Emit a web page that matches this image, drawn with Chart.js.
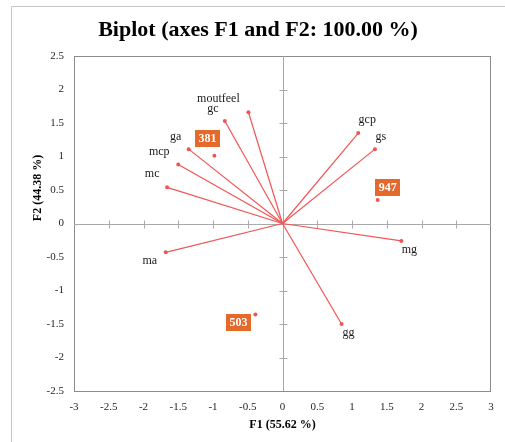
<!DOCTYPE html>
<html>
<head>
<meta charset="utf-8">
<script src="https://cdn.jsdelivr.net/npm/chart.js@4.4.1/dist/chart.umd.min.js"></script>
<style>
  html, body { margin: 0; padding: 0; background: #fff; overflow: hidden; }
  canvas { display: block; }
</style>
</head>
<body>
<canvas id="biplot" width="505" height="442"></canvas>
<script>
// Variable loadings (vectors from the origin)
const variables = ['moutfeel', 'gc', 'ga', 'mcp', 'mc', 'ma', 'gcp', 'gs', 'mg', 'gg'];
const varF1 = [-0.49, -0.83, -1.35, -1.50, -1.66, -1.68, 1.09, 1.33, 1.71, 0.85];
const varF2 = [1.66, 1.53, 1.11, 0.88, 0.54, -0.43, 1.35, 1.11, -0.26, -1.50];

// Observation scores
const observations = ['381', '947', '503'];
const obsF1 = [-0.98, 1.37, -0.39];
const obsF2 = [1.01, 0.35, -1.36];

const titleText = 'Biplot (axes F1 and F2: 100.00 %)';
const xTitle = 'F1 (55.62 %)';
const yTitle = 'F2 (44.38 %)';

// Label placement relative to each marker, in pixels
const varLabelOffset = {
  moutfeel: [-30, -13], gc: [-12, -12], ga: [-13, -12], mcp: [-19, -13], mc: [-15, -13],
  ma: [-16, 9], gcp: [9, -13], gs: [6, -12], mg: [8, 9], gg: [7, 9]
};
const obsLabelOffset = { '381': [-7, -17], '947': [10, -13], '503': [-17, 8] };

const LINE_RED = '#f05555';
const BOX_ORANGE = '#e5692b';
const SERIF = '"Liberation Serif", "Times New Roman", serif';

const datasets = variables.map((name, i) => ({
  label: name,
  data: [{ x: 0, y: 0 }, { x: varF1[i], y: varF2[i] }],
  showLine: true,
  borderColor: LINE_RED,
  backgroundColor: LINE_RED,
  borderWidth: 1.2,
  pointRadius: [0, 2],
  pointBorderWidth: 0,
  pointBackgroundColor: LINE_RED
}));
datasets.push({
  label: 'observations',
  data: observations.map((n, i) => ({ x: obsF1[i], y: obsF2[i] })),
  showLine: false,
  pointRadius: 2,
  pointBorderWidth: 0,
  pointBackgroundColor: LINE_RED,
  backgroundColor: LINE_RED
});

const biplotDecor = {
  id: 'biplotDecor',
  beforeDraw(chart) {
    const { ctx, chartArea: a, scales: { x, y } } = chart;
    ctx.save();
    ctx.fillStyle = '#fff';
    ctx.fillRect(0, 0, chart.width, chart.height);

    // outer frame (top and left edges)
    ctx.strokeStyle = '#c6c6c6';
    ctx.lineWidth = 1;
    ctx.beginPath();
    ctx.moveTo(11.5, chart.height);
    ctx.lineTo(11.5, 6.5);
    ctx.lineTo(chart.width, 6.5);
    ctx.stroke();

    // plot box
    ctx.strokeStyle = '#8c8c8c';
    ctx.strokeRect(Math.round(a.left) + 0.5, Math.round(a.top) + 0.5,
      Math.round(a.right - a.left) - 1, Math.round(a.bottom - a.top));

    // central axes through the origin
    const x0 = Math.round(x.getPixelForValue(0)) + 0.5;
    const y0 = Math.round(y.getPixelForValue(0)) + 0.5;
    ctx.strokeStyle = '#a9a9a9';
    ctx.beginPath();
    ctx.moveTo(a.left, y0); ctx.lineTo(a.right, y0);
    ctx.moveTo(x0, a.top); ctx.lineTo(x0, a.bottom);
    ctx.stroke();

    // cross ticks on the central axes
    ctx.beginPath();
    x.ticks.forEach(t => {
      if (t.value === 0 || t.value === x.min || t.value === x.max) return;
      const px = Math.round(x.getPixelForValue(t.value)) + 0.5;
      ctx.moveTo(px, y0 - 4); ctx.lineTo(px, y0 + 4);
    });
    y.ticks.forEach(t => {
      if (t.value === 0 || t.value === y.min || t.value === y.max) return;
      const py = Math.round(y.getPixelForValue(t.value)) + 0.5;
      ctx.moveTo(x0 - 4, py); ctx.lineTo(x0 + 4, py);
    });
    ctx.stroke();
    ctx.restore();
  },
  afterDatasetsDraw(chart) {
    const { ctx, scales: { x, y } } = chart;
    ctx.save();
    ctx.textAlign = 'center';
    ctx.textBaseline = 'middle';

    // variable names
    ctx.fillStyle = '#1a1a1a';
    ctx.font = '12px ' + SERIF;
    variables.forEach((name, i) => {
      const [dx, dy] = varLabelOffset[name];
      ctx.fillText(name, x.getPixelForValue(varF1[i]) + dx, y.getPixelForValue(varF2[i]) + dy);
    });

    // observation tags
    ctx.font = 'bold 12px ' + SERIF;
    observations.forEach((name, i) => {
      const [dx, dy] = obsLabelOffset[name];
      const cx = x.getPixelForValue(obsF1[i]) + dx;
      const cy = y.getPixelForValue(obsF2[i]) + dy;
      const w = 25, h = 17;
      ctx.fillStyle = BOX_ORANGE;
      ctx.fillRect(Math.round(cx - w / 2), Math.round(cy - h / 2), w, h);
      ctx.fillStyle = '#fff';
      ctx.fillText(name, cx, cy + 0.5);
    });
    ctx.restore();
  },
  afterDraw(chart) {
    const { ctx } = chart;
    ctx.save();
    ctx.fillStyle = '#000';
    ctx.textAlign = 'center';
    ctx.textBaseline = 'middle';
    ctx.font = 'bold 22px ' + SERIF;
    ctx.fillText(titleText, 258, 30);

    ctx.font = 'bold 12px ' + SERIF;
    ctx.fillText(xTitle, 282.5, 425);
    ctx.translate(37.5, 188);
    ctx.rotate(-Math.PI / 2);
    ctx.fillText(yTitle, 0, 0);
    ctx.restore();
  }
};

const tickFont = { family: SERIF, size: 11 };
const tickText = v => String(v);

new Chart(document.getElementById('biplot'), {
  type: 'scatter',
  data: { datasets },
  options: {
    responsive: false,
    animation: false,
    layout: { padding: { top: 56, right: 14, bottom: 0, left: 0 } },
    plugins: { legend: { display: false }, tooltip: { enabled: false }, title: { display: false } },
    scales: {
      x: {
        type: 'linear', min: -3, max: 3,
        grid: { display: false, drawTicks: false },
        border: { display: false },
        ticks: { stepSize: 0.5, padding: 10, color: '#262626', font: tickFont, callback: tickText, maxRotation: 0 },
        afterFit: s => { s.height = 51; }
      },
      y: {
        type: 'linear', min: -2.5, max: 2.5,
        grid: { display: false, drawTicks: false },
        border: { display: false },
        ticks: { stepSize: 0.5, padding: 10, color: '#262626', font: tickFont, callback: tickText },
        afterFit: s => { s.width = 74; }
      }
    }
  },
  plugins: [biplotDecor]
});
</script>
</body>
</html>
